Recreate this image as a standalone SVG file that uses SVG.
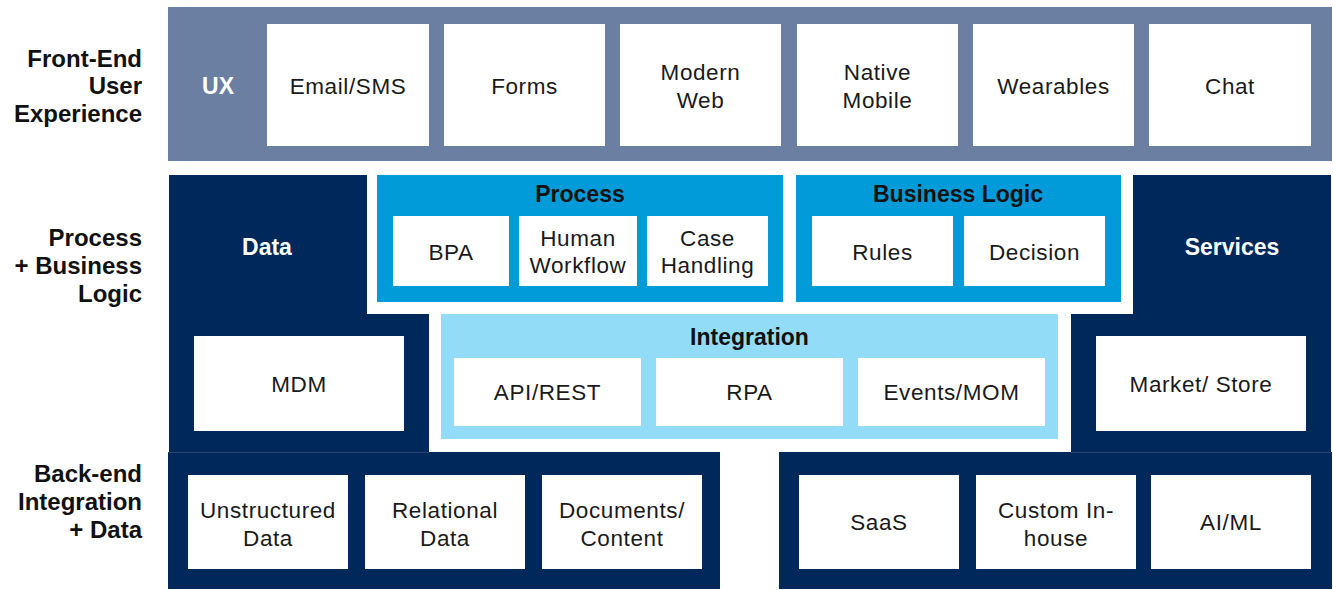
<svg xmlns="http://www.w3.org/2000/svg" width="1333" height="590" viewBox="0 0 1333 590">
<style>
  .lbl { font-family: "Liberation Sans", Arial, sans-serif; font-weight: bold; font-size: 24px; fill: #111; text-anchor: end; }
  .ttl { font-family: "Liberation Sans", Arial, sans-serif; font-weight: bold; font-size: 23px; fill: #111; text-anchor: middle; }
  .wttl { font-family: "Liberation Sans", Arial, sans-serif; font-weight: bold; font-size: 23px; fill: #fff; text-anchor: middle; }
  .txt { font-family: "Liberation Sans", Arial, sans-serif; font-size: 22.5px; fill: #1a1a1a; text-anchor: middle; letter-spacing: 0.6px; }
  .box { fill: #fff; }
  .slate { fill: #6a7fa2; }
  .navy { fill: #00285a; }
  .blue { fill: #009bd8; }
  .light { fill: #92dcf7; }
</style>

<g id="row-labels">
  <text class="lbl" x="142" y="67">Front-End</text>
  <text class="lbl" x="142" y="94">User</text>
  <text class="lbl" x="142" y="122">Experience</text>
  <text class="lbl" x="142" y="246">Process</text>
  <text class="lbl" x="142" y="274">+ Business</text>
  <text class="lbl" x="142" y="302">Logic</text>
  <text class="lbl" x="142" y="482">Back-end</text>
  <text class="lbl" x="142" y="510">Integration</text>
  <text class="lbl" x="142" y="538">+ Data</text>
</g>

<g id="ux">
  <rect class="slate" x="168" y="7" width="1164" height="154"/>
  <text class="wttl" x="218" y="94">UX</text>
</g>
<g id="email-sms"><rect class="box" x="267" y="24" width="162" height="122"/><text class="txt" x="348" y="94">Email/SMS</text></g>
<g id="forms"><rect class="box" x="444" y="24" width="161" height="122"/><text class="txt" x="524.5" y="94">Forms</text></g>
<g id="modern-web"><rect class="box" x="620" y="24" width="161" height="122"/><text class="txt" x="700.5" y="80">Modern</text><text class="txt" x="700.5" y="108">Web</text></g>
<g id="native-mobile"><rect class="box" x="797" y="24" width="161" height="122"/><text class="txt" x="877.5" y="80">Native</text><text class="txt" x="877.5" y="108">Mobile</text></g>
<g id="wearables"><rect class="box" x="973" y="24" width="161" height="122"/><text class="txt" x="1053.5" y="94">Wearables</text></g>
<g id="chat"><rect class="box" x="1149" y="24" width="162" height="122"/><text class="txt" x="1230" y="94">Chat</text></g>

<g id="data">
  <polygon class="navy" points="169,175 367,175 367,314 429,314 429,452 169,452"/>
  <text class="wttl" x="267" y="255">Data</text>
</g>
<g id="mdm"><rect class="box" x="194" y="336" width="210" height="95"/><text class="txt" x="299" y="392">MDM</text></g>

<g id="services">
  <polygon class="navy" points="1133,175 1331,175 1331,452 1071,452 1071,314 1133,314"/>
  <text class="wttl" x="1232" y="255">Services</text>
</g>
<g id="market-store"><rect class="box" x="1096" y="336" width="210" height="95"/><text class="txt" x="1201" y="392">Market/ Store</text></g>

<g id="process">
  <rect class="blue" x="377" y="175" width="406" height="127"/>
  <text class="ttl" x="580" y="202">Process</text>
</g>
<g id="bpa"><rect class="box" x="393" y="216" width="116" height="70"/><text class="txt" x="451" y="260">BPA</text></g>
<g id="human-workflow"><rect class="box" x="519" y="216" width="118" height="70"/><text class="txt" x="578" y="246">Human</text><text class="txt" x="578" y="273">Workflow</text></g>
<g id="case-handling"><rect class="box" x="647" y="216" width="121" height="70"/><text class="txt" x="707.5" y="246">Case</text><text class="txt" x="707.5" y="273">Handling</text></g>

<g id="business-logic">
  <rect class="blue" x="796" y="175" width="325" height="127"/>
  <text class="ttl" x="958" y="202">Business Logic</text>
</g>
<g id="rules"><rect class="box" x="812" y="216" width="141" height="70"/><text class="txt" x="882.5" y="260">Rules</text></g>
<g id="decision"><rect class="box" x="964" y="216" width="141" height="70"/><text class="txt" x="1034.5" y="260">Decision</text></g>

<g id="integration">
  <rect class="light" x="441" y="314" width="617" height="125"/>
  <text class="ttl" x="749.5" y="345">Integration</text>
</g>
<g id="api-rest"><rect class="box" x="454" y="358" width="187" height="68"/><text class="txt" x="547.5" y="400">API/REST</text></g>
<g id="rpa"><rect class="box" x="656" y="358" width="187" height="68"/><text class="txt" x="749.5" y="400">RPA</text></g>
<g id="events-mom"><rect class="box" x="858" y="358" width="187" height="68"/><text class="txt" x="951.5" y="400">Events/MOM</text></g>

<g id="backend-data">
  <rect class="navy" x="168" y="452" width="552" height="137"/>
  <line x1="168" y1="452.5" x2="429" y2="452.5" stroke="#2a4470" stroke-width="1"/>
</g>
<g id="unstructured-data"><rect class="box" x="188" y="475" width="160" height="94"/><text class="txt" x="268" y="518">Unstructured</text><text class="txt" x="268" y="546">Data</text></g>
<g id="relational-data"><rect class="box" x="365" y="475" width="160" height="94"/><text class="txt" x="445" y="518">Relational</text><text class="txt" x="445" y="546">Data</text></g>
<g id="documents-content"><rect class="box" x="542" y="475" width="160" height="94"/><text class="txt" x="622" y="518">Documents/</text><text class="txt" x="622" y="546">Content</text></g>

<g id="backend-apps">
  <rect class="navy" x="779" y="452" width="553" height="137"/>
  <line x1="1071" y1="452.5" x2="1331" y2="452.5" stroke="#2a4470" stroke-width="1"/>
</g>
<g id="saas"><rect class="box" x="799" y="475" width="160" height="94"/><text class="txt" x="879" y="530">SaaS</text></g>
<g id="custom-inhouse"><rect class="box" x="976" y="475" width="160" height="94"/><text class="txt" x="1056" y="518">Custom In-</text><text class="txt" x="1056" y="546">house</text></g>
<g id="ai-ml"><rect class="box" x="1151" y="475" width="160" height="94"/><text class="txt" x="1231" y="530">AI/ML</text></g>

<g id="connectors"></g>
</svg>
